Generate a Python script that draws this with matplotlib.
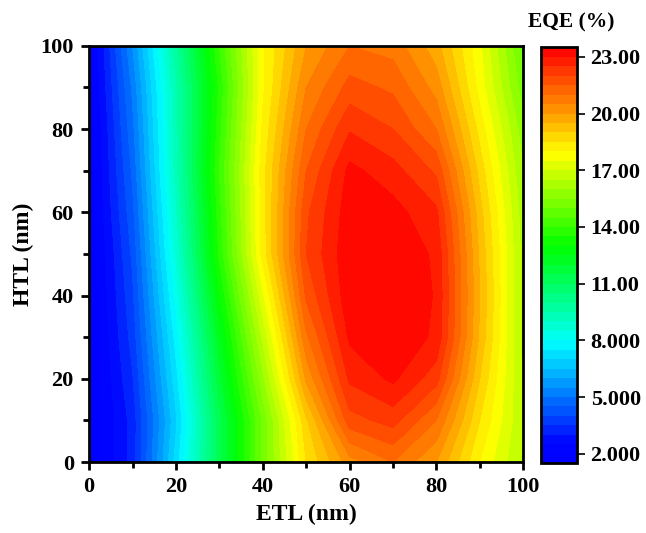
import numpy as np
import matplotlib
matplotlib.use('Agg')
import matplotlib.pyplot as plt
from matplotlib.colors import LinearSegmentedColormap

# simulated EQE (%) on a 10 nm grid of ETL / HTL thickness
etl = [0, 10, 20, 30, 40, 50, 60, 70, 80, 90, 100]
htl = [0, 10, 20, 30, 40, 50, 60, 70, 80, 90, 100]

# rows: HTL = 0 ... 100, columns: ETL = 0 ... 100
eqe = [
    [1.5, 3.2, 7.2, 11.3, 15.1, 18.5, 20.3, 21.0, 20.0, 18.0, 16.4],
    [1.5, 3.2, 6.9, 11.3, 15.1, 18.9, 21.8, 22.2, 21.0, 18.5, 16.5],
    [1.5, 3.45, 7.3, 11.8, 15.85, 20.1, 22.6, 23.1, 22.2, 19.0, 16.4],
    [1.5, 3.7, 7.7, 12.3, 16.6, 20.9, 23.1, 23.4, 22.9, 19.4, 16.3],
    [1.5, 3.9, 8.15, 12.95, 17.4, 21.6, 23.35, 23.5, 22.95, 19.5, 16.3],
    [1.5, 4.1, 8.6, 13.6, 18.2, 22.0, 23.4, 23.45, 22.9, 19.4, 16.3],
    [1.6, 4.35, 8.9, 13.8, 18.25, 21.9, 23.3, 23.2, 22.6, 19.2, 16.2],
    [1.6, 4.6, 9.2, 14.0, 18.3, 21.5, 23.15, 22.7, 21.9, 18.8, 16.0],
    [1.6, 4.85, 9.3, 13.8, 18.1, 21.0, 22.45, 22.0, 21.0, 18.3, 15.7],
    [1.7, 5.1, 9.4, 13.6, 17.9, 20.5, 21.7, 21.4, 20.3, 17.8, 15.2],
    [1.7, 5.5, 9.8, 14.0, 17.9, 20.0, 21.0, 20.8, 19.7, 17.6, 14.8],
]

cbar_ticks = [2, 5, 8, 11, 14, 17, 20, 23]
cbar_labels = ['2.000', '5.000', '8.000', '11.00', '14.00', '17.00', '20.00', '23.00']

plt.rcParams['font.family'] = ['Liberation Serif', 'DejaVu Serif']
plt.rcParams['font.weight'] = 'bold'

# blue - cyan - green - yellow - red, blue held a little at the low end
rainbow = LinearSegmentedColormap.from_list(
    'origin_rainbow',
    [(0.0, (0, 0, 1)), (0.05, (0, 0.02, 1)), (0.29, (0, 1, 1)), (0.52, (0, 1, 0)),
     (0.745, (1, 1, 0)), (1.0, (1, 0, 0))])

levels = np.arange(1.5, 23.51, 0.5)

fig = plt.figure(figsize=(6.46, 5.33), dpi=100)
ax = fig.add_axes([0.138, 0.133, 0.672, 0.781])
X, Y = np.meshgrid(etl, htl)
cs = ax.contourf(X, Y, np.array(eqe), levels=levels, cmap=rainbow)

ax.set_xlim(0, 100)
ax.set_ylim(0, 100)
ax.set_xticks([0, 20, 40, 60, 80, 100])
ax.set_yticks([0, 20, 40, 60, 80, 100])
ax.set_xticks([10, 30, 50, 70, 90], minor=True)
ax.set_yticks([10, 30, 50, 70, 90], minor=True)
ax.tick_params(which='major', direction='out', length=6, width=2, labelsize=16, pad=5)
ax.tick_params(which='minor', direction='out', length=4, width=2)
for s in ax.spines.values():
    s.set_linewidth(2)
ax.set_xlabel('ETL (nm)', fontsize=17, fontweight='bold', labelpad=5)
ax.set_ylabel('HTL (nm)', fontsize=17, fontweight='bold', labelpad=5)

cax = fig.add_axes([0.837, 0.131, 0.0557, 0.780])
cb = fig.colorbar(cs, cax=cax, ticks=cbar_ticks)
cb.set_ticklabels(cbar_labels)
cb.outline.set_linewidth(2)
cax.tick_params(direction='out', length=6, width=1.2, labelsize=16, pad=4)
fig.text(0.884, 0.957, 'EQE (%)', fontsize=15.5, fontweight='bold', ha='center', va='center')

fig.savefig('out.png', dpi=100)
